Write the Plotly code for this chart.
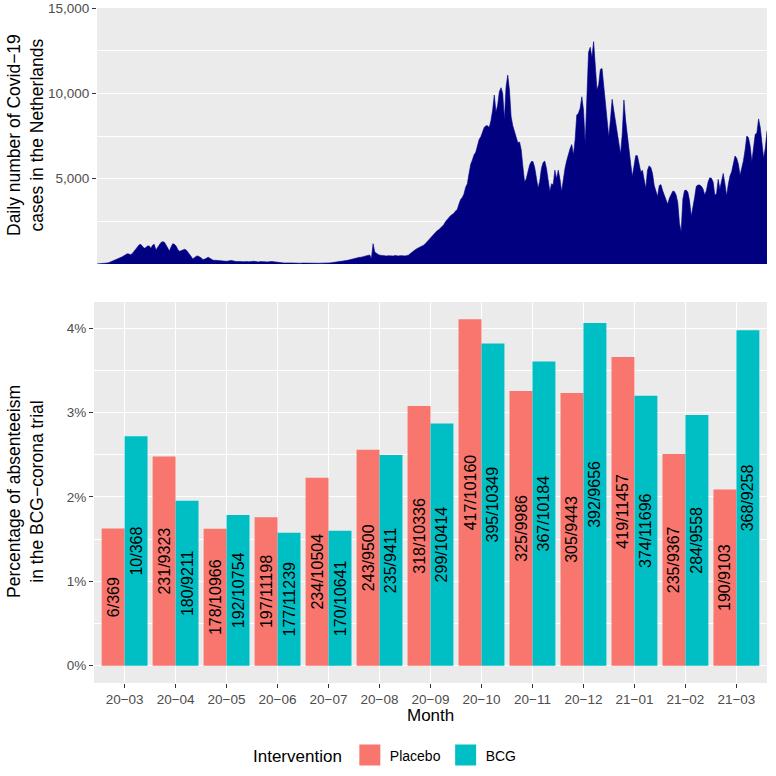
import pandas as pd
import plotly.graph_objects as go

# ---------------- data ----------------
# Daily number of Covid-19 cases in the Netherlands, 2020-02-27 .. 2021-03-31
case_start = "2020-02-27"
case_end = "2021-03-31"
daily_cases = [
    1, 5, 10, 20, 30, 40, 60, 80, 120, 160,
    200, 220, 280, 320, 380, 420, 480, 550, 600, 580,
    540, 620, 750, 850, 1000, 1120, 1150, 1030, 920, 960,
    1050, 1060, 920, 1100, 1150, 820, 980, 1150, 1260, 1310,
    1280, 1120, 950, 760, 1000, 1190, 1150, 1050, 850, 750,
    780, 820, 860, 820, 700, 600, 420, 300, 380, 460,
    470, 430, 350, 250, 270, 330, 400, 330, 250, 220,
    220, 210, 200, 180, 170, 160, 170, 160, 180, 200,
    210, 180, 150, 140, 150, 160, 140, 130, 150, 140,
    130, 120, 150, 160, 140, 130, 120, 140, 150, 140,
    130, 120, 140, 130, 150, 130, 110, 100, 90, 80,
    70, 60, 70, 60, 55, 65, 60, 50, 55, 60,
    50, 45, 55, 50, 45, 50, 40, 45, 40, 35,
    30, 40, 45, 50, 45, 50, 55, 60, 65, 70,
    80, 90, 100, 110, 120, 130, 150, 180, 200, 220,
    250, 280, 300, 320, 350, 370, 390, 400, 430, 460,
    490, 520, 530, 320, 1190, 700, 620, 560, 520, 500,
    480, 460, 470, 490, 480, 460, 470, 500, 480, 470,
    490, 500, 480, 470, 500, 520, 600, 690, 780, 830,
    900, 950, 990, 1030, 1100, 1190, 1300, 1400, 1520, 1600,
    1750, 1880, 1950, 2000, 2090, 2230, 2300, 2480, 2600, 2750,
    2830, 2900, 2970, 3100, 3200, 3500, 3780, 3900, 4100, 4500,
    4700, 5300, 5850, 6100, 6400, 6550, 6950, 7300, 7450, 7750,
    8000, 8100, 8100, 8000, 8400, 9000, 9900, 8900, 9300, 10100,
    10330, 10000, 8440, 10390, 11070, 10190, 8630, 8100, 7750, 7400,
    7100, 7150, 6700, 5700, 4800, 5000, 5400, 5800, 6000, 6000,
    5650, 5100, 4450, 4850, 5600, 5950, 6030, 5600, 5000, 4250,
    4700, 4650, 5500, 5000, 5500, 5000, 4250, 5000, 5600, 6050,
    6450, 6750, 7000, 6400, 7270, 8730, 8830, 9120, 9800, 9020,
    7070, 10000, 12400, 12700, 12100, 13030, 11800, 10200, 10500, 11400,
    11460, 10500, 9500, 8300, 7460, 8440, 9650, 9000, 8400, 7700,
    7000, 6450, 7600, 9610, 8440, 7460, 6680, 5900, 5120, 5900,
    6350, 6350, 5900, 5400, 5500, 4920, 4430, 5500, 5750, 5650,
    5300, 4600, 4250, 3950, 4600, 4650, 4300, 4050, 3750, 3500,
    3850, 4100, 4270, 4250, 4050, 3600, 2380, 1890, 3800, 4300,
    4330, 4200, 3700, 2800, 3300, 3900, 4550, 4630, 4630, 4560,
    4400, 4050, 4300, 4800, 5050, 5020, 4800, 4050, 4100, 4960,
    4400, 4950, 5310, 4700, 4000, 4650, 5150, 5400, 5900, 6330,
    6200, 5850, 5200, 5600, 6050, 6700, 7500, 7400, 6900, 6000,
    6700, 7600, 7680, 8500, 8000, 7000, 6200, 6800, 7800,
]
case_ticks = [5000, 10000, 15000]
case_tick_labels = ["5,000", "10,000", "15,000"]

months = ["20−03", "20−04", "20−05", "20−06", "20−07", "20−08", "20−09",
          "20−10", "20−11", "20−12", "21−01", "21−02", "21−03"]
placebo_absent = [6, 231, 178, 197, 234, 243, 318, 417, 325, 305, 419, 235, 190]
placebo_total = [369, 9323, 10966, 11198, 10504, 9500, 10336, 10160, 9986, 9443, 11457, 9367, 9103]
bcg_absent = [10, 180, 192, 177, 170, 235, 299, 395, 367, 392, 374, 284, 368]
bcg_total = [368, 9211, 10754, 11239, 10641, 9411, 10414, 10349, 10184, 9656, 11696, 9558, 9258]
pct_ticks = [0, 1, 2, 3, 4]
pct_tick_labels = ["0%", "1%", "2%", "3%", "4%"]

# ---------------- derived ----------------
dates = pd.date_range(case_start, case_end, freq="D")
placebo_pct = [100 * a / t for a, t in zip(placebo_absent, placebo_total)]
bcg_pct = [100 * a / t for a, t in zip(bcg_absent, bcg_total)]
placebo_lbl = [f"{a}/{t}" for a, t in zip(placebo_absent, placebo_total)]
bcg_lbl = [f"{a}/{t}" for a, t in zip(bcg_absent, bcg_total)]
ymax = max(placebo_pct + bcg_pct)

FONT = "Liberation Sans, Arial, Helvetica, sans-serif"
PANEL = "#EBEBEB"
RED = "#F8766D"
TEAL = "#00BFC4"
W = H = 776

fig = go.Figure()

fig.add_trace(go.Scatter(
    x=dates, y=daily_cases, mode="lines", fill="tozeroy",
    line=dict(color="#00008B", width=0.6), fillcolor="#000080",
    showlegend=False, hoverinfo="x+y", xaxis="x", yaxis="y",
))

common_bar = dict(xaxis="x2", yaxis="y2", textposition="inside", textangle=-90,
                  insidetextanchor="middle", constraintext="none",
                  textfont=dict(color="black", size=16, family=FONT),
                  showlegend=False, marker_line_width=0)
fig.add_trace(go.Bar(x=months, y=placebo_pct, text=placebo_lbl, name="Placebo",
                     marker_color=RED, offsetgroup="p", **common_bar))
fig.add_trace(go.Bar(x=months, y=bcg_pct, text=bcg_lbl, name="BCG",
                     marker_color=TEAL, offsetgroup="b", **common_bar))

# legend entries
for nm, col in [("Placebo", RED), ("BCG", TEAL)]:
    fig.add_trace(go.Scatter(x=[None], y=[None], mode="markers", name=nm,
                             marker=dict(symbol="square", size=16, color=col,
                                         line=dict(color=col, width=5)),
                             xaxis="x2", yaxis="y2", showlegend=True))

tickfont = dict(family=FONT, size=13.5, color="#4D4D4D")
title_font = dict(size=17.5, family=FONT, color="black")
fig.update_layout(
    width=W, height=H, autosize=False,
    margin=dict(l=0, r=0, t=0, b=0, autoexpand=False),
    paper_bgcolor="white", plot_bgcolor=PANEL,
    font=dict(family=FONT, color="black"),
    barmode="group", bargap=0.1, bargroupgap=0,
    showlegend=True,
    legend=dict(orientation="h", x=386 / W, xanchor="center", y=1 - 756 / H, yanchor="middle",
                title=dict(text="Intervention", side="left", font=dict(size=17, family=FONT)),
                font=dict(size=14, family=FONT), itemwidth=30, bgcolor="rgba(0,0,0,0)"),
    xaxis=dict(domain=[97 / W, 767 / W], anchor="y", type="date",
               range=[dates[0], dates[-1]], showgrid=False, showticklabels=False,
               ticks="", zeroline=False, showline=False),
    yaxis=dict(domain=[1 - 264 / H, 1 - 8 / H], anchor="x", range=[0, 15000],
               tickvals=case_ticks, ticktext=case_tick_labels, tickfont=tickfont,
               ticks="outside", ticklen=4, tickcolor="#333333", tickwidth=1,
               gridcolor="white", gridwidth=1.1, zeroline=False, showline=False,
               minor=dict(dtick=2500, tick0=0, showgrid=True, gridcolor="white", gridwidth=0.5, ticks="")),
    xaxis2=dict(domain=[94 / W, 767 / W], anchor="y2", type="category",
                range=[-0.6, len(months) - 0.4], tickfont=tickfont,
                ticks="outside", ticklen=4, tickcolor="#333333", tickwidth=1,
                gridcolor="white", gridwidth=1.1, showgrid=True, zeroline=False, showline=False),
    yaxis2=dict(domain=[1 - 683 / H, 1 - 302 / H], anchor="x2",
                range=[-0.05 * ymax, 1.05 * ymax],
                tickvals=pct_ticks, ticktext=pct_tick_labels, tickfont=tickfont,
                ticks="outside", ticklen=4, tickcolor="#333333", tickwidth=1,
                gridcolor="white", gridwidth=1.1, zeroline=False, showline=False,
                minor=dict(dtick=0.5, tick0=0, showgrid=True, gridcolor="white", gridwidth=0.5, ticks="")),
    annotations=[
        dict(text="Daily number of Covid−19<br>cases in the Netherlands", x=25 / W, y=1 - 135 / H,
             xref="paper", yref="paper", textangle=-90, showarrow=False,
             font=title_font, xanchor="center", yanchor="middle"),
        dict(text="Percentage of absenteeism<br>in the BCG−corona trial", x=25 / W, y=1 - 492 / H,
             xref="paper", yref="paper", textangle=-90, showarrow=False,
             font=title_font, xanchor="center", yanchor="middle"),
        dict(text="Month", x=430 / W, y=1 - 715 / H, xref="paper", yref="paper", showarrow=False,
             font=dict(size=17, family=FONT, color="black"), xanchor="center", yanchor="middle"),
    ],
)

fig.write_html("out.html", config={"displayModeBar": False},
               post_script="document.body.style.margin='0px';")
